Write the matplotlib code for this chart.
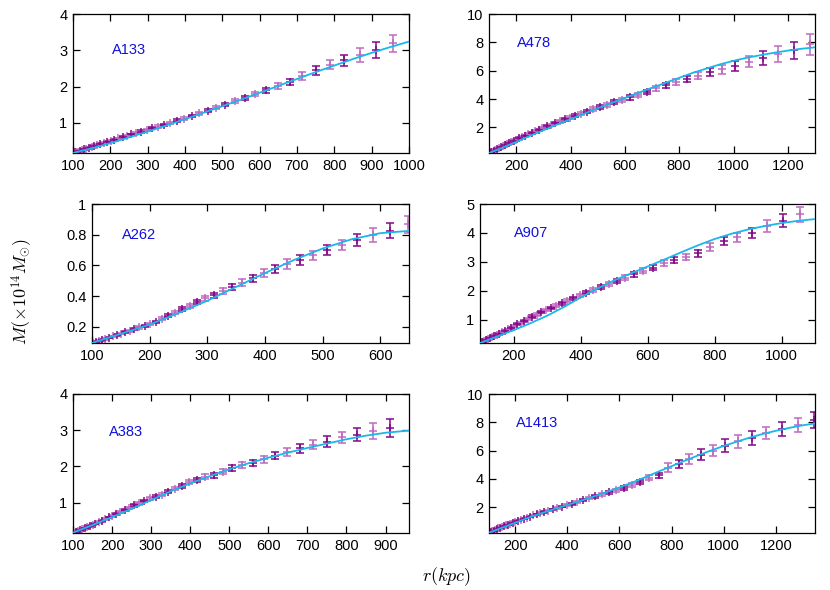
import numpy as np
import matplotlib
matplotlib.use("Agg")
import matplotlib.pyplot as plt
from matplotlib.ticker import FormatStrFormatter

plt.rcParams['font.family'] = ['Liberation Sans', 'DejaVu Sans']
plt.rcParams['mathtext.fontset'] = 'cm'

# radial grid of the measured points (kpc), shared by all clusters
r_data = [101.5, 106.6, 111.9, 117.5, 123.4, 129.5, 136.0, 142.8, 150.0, 157.5,
          165.3, 173.6, 182.3, 191.4, 200.9, 211.0, 221.5, 232.6, 244.3, 256.5,
          269.3, 282.8, 296.9, 311.7, 327.3, 343.7, 360.9, 378.9, 397.9, 417.8,
          438.7, 460.6, 483.6, 507.8, 533.2, 559.8, 587.8, 617.2, 648.1, 680.5,
          714.5, 750.2, 787.7, 827.1, 868.5, 911.9, 957.5, 1005, 1056, 1108,
          1164, 1222, 1283, 1347]

# radii of the model curve nodes (kpc)
r_fit = [100, 150, 200, 250, 300, 350, 400, 450, 500, 550, 600, 650, 700,
         750, 800, 850, 900, 950, 1000, 1050, 1100, 1150, 1200, 1250, 1300, 1350]

# A133
m_a133 = [0.18, 0.19, 0.21, 0.23, 0.25, 0.27, 0.29, 0.31, 0.34, 0.36,
          0.39, 0.42, 0.45, 0.48, 0.51, 0.54, 0.57, 0.61, 0.64, 0.68,
          0.72, 0.76, 0.80, 0.85, 0.90, 0.95, 1.00, 1.06, 1.12, 1.19,
          1.27, 1.33, 1.42, 1.50, 1.60, 1.69, 1.79, 1.90, 2.01, 2.13,
          2.29, 2.45, 2.60, 2.73, 2.87, 3.00, 3.19]
e_a133 = [0.02, 0.02, 0.02, 0.02, 0.02, 0.02, 0.02, 0.02, 0.02, 0.02,
          0.02, 0.02, 0.02, 0.02, 0.02, 0.025, 0.025, 0.025, 0.025, 0.025,
          0.03, 0.03, 0.03, 0.03, 0.03, 0.03, 0.035, 0.035, 0.035, 0.04,
          0.04, 0.04, 0.045, 0.045, 0.05, 0.05, 0.06, 0.07, 0.08, 0.08,
          0.10, 0.12, 0.12, 0.15, 0.18, 0.22, 0.24]
fit_a133 = [0.17, 0.30, 0.44, 0.60, 0.76, 0.93, 1.10, 1.28, 1.46, 1.64,
            1.83, 2.02, 2.21, 2.40, 2.58, 2.76, 2.93, 3.09, 3.24]

# A478
m_a478 = [0.20, 0.25, 0.30, 0.35, 0.41, 0.47, 0.53, 0.60, 0.67, 0.74,
          0.82, 0.90, 0.98, 1.06, 1.15, 1.24, 1.33, 1.43, 1.53, 1.63,
          1.74, 1.85, 1.95, 2.07, 2.19, 2.31, 2.44, 2.57, 2.70, 2.84,
          2.98, 3.12, 3.30, 3.45, 3.60, 3.78, 3.95, 4.12, 4.30, 4.50,
          4.75, 4.98, 5.20, 5.40, 5.65, 5.90, 6.10, 6.35, 6.65, 6.90,
          7.20, 7.45, 7.85]
e_a478 = [0.04, 0.04, 0.04, 0.04, 0.04, 0.04, 0.04, 0.05, 0.05, 0.05,
          0.05, 0.05, 0.05, 0.05, 0.06, 0.06, 0.06, 0.06, 0.06, 0.07,
          0.07, 0.07, 0.08, 0.08, 0.08, 0.09, 0.09, 0.10, 0.10, 0.11,
          0.11, 0.12, 0.12, 0.13, 0.13, 0.14, 0.14, 0.15, 0.15, 0.16,
          0.17, 0.18, 0.20, 0.22, 0.25, 0.27, 0.30, 0.35, 0.40, 0.50,
          0.55, 0.60, 0.75]
fit_a478 = [0.20, 0.58, 0.98, 1.40, 1.80, 2.20, 2.58, 2.97, 3.35, 3.72,
            4.08, 4.45, 4.80, 5.15, 5.50, 5.85, 6.15, 6.45, 6.70, 6.92,
            7.10, 7.27, 7.42, 7.55, 7.65]

# A262
m_a262 = [0.095, 0.101, 0.108, 0.115, 0.122, 0.130, 0.138, 0.147, 0.156, 0.165,
          0.175, 0.185, 0.196, 0.207, 0.219, 0.233, 0.254, 0.272, 0.293, 0.315,
          0.337, 0.363, 0.385, 0.406, 0.435, 0.460, 0.487, 0.515, 0.548, 0.576,
          0.610, 0.635, 0.667, 0.700, 0.733, 0.765, 0.800, 0.826, 0.867]
e_a262 = [0.004, 0.004, 0.004, 0.004, 0.005, 0.005, 0.005, 0.005, 0.005, 0.006,
          0.006, 0.006, 0.007, 0.007, 0.008, 0.008, 0.009, 0.010, 0.011, 0.012,
          0.013, 0.014, 0.015, 0.016, 0.018, 0.020, 0.022, 0.024, 0.026, 0.028,
          0.030, 0.030, 0.030, 0.030, 0.035, 0.040, 0.045, 0.048, 0.055]
fit_a262 = [0.095, 0.155, 0.215, 0.29, 0.37, 0.46, 0.55, 0.635, 0.71, 0.77,
            0.81, 0.825]

# A907
m_a907 = [0.21, 0.24, 0.27, 0.30, 0.33, 0.36, 0.40, 0.44, 0.48, 0.52,
          0.57, 0.62, 0.67, 0.72, 0.78, 0.84, 0.90, 0.97, 1.04, 1.11,
          1.18, 1.26, 1.33, 1.41, 1.49, 1.57, 1.66, 1.75, 1.85, 1.94,
          2.03, 2.14, 2.25, 2.34, 2.46, 2.57, 2.70, 2.80, 2.95, 3.06,
          3.18, 3.30, 3.52, 3.72, 3.85, 4.00, 4.25, 4.43, 4.64]
e_a907 = [0.03, 0.03, 0.03, 0.03, 0.03, 0.03, 0.03, 0.03, 0.03, 0.03,
          0.03, 0.03, 0.03, 0.03, 0.03, 0.035, 0.035, 0.035, 0.035, 0.04,
          0.04, 0.04, 0.04, 0.045, 0.045, 0.045, 0.05, 0.05, 0.055, 0.055,
          0.06, 0.06, 0.065, 0.07, 0.075, 0.08, 0.085, 0.09, 0.10, 0.10,
          0.10, 0.12, 0.14, 0.15, 0.15, 0.17, 0.20, 0.23, 0.25]
fit_a907 = [0.20, 0.42, 0.64, 0.88, 1.14, 1.44, 1.77, 2.08, 2.36, 2.60,
            2.84, 3.08, 3.33, 3.57, 3.79, 3.97, 4.12, 4.24, 4.34, 4.42, 4.48]

# A383
m_a383 = [0.17, 0.19, 0.21, 0.24, 0.26, 0.29, 0.32, 0.35, 0.39, 0.42,
          0.46, 0.50, 0.55, 0.59, 0.64, 0.69, 0.74, 0.80, 0.86, 0.92,
          0.98, 1.05, 1.12, 1.16, 1.22, 1.30, 1.38, 1.45, 1.57, 1.62,
          1.72, 1.75, 1.85, 1.95, 2.03, 2.10, 2.20, 2.30, 2.40, 2.50,
          2.60, 2.68, 2.80, 2.88, 2.98, 3.05]
e_a383 = [0.02, 0.02, 0.02, 0.02, 0.02, 0.02, 0.02, 0.02, 0.02, 0.02,
          0.02, 0.025, 0.025, 0.025, 0.025, 0.03, 0.03, 0.03, 0.03, 0.03,
          0.035, 0.035, 0.035, 0.04, 0.04, 0.04, 0.045, 0.05, 0.06, 0.06,
          0.07, 0.07, 0.07, 0.08, 0.08, 0.08, 0.10, 0.10, 0.12, 0.12,
          0.13, 0.15, 0.16, 0.18, 0.22, 0.25]
fit_a383 = [0.17, 0.38, 0.60, 0.83, 1.07, 1.31, 1.53, 1.73, 1.92, 2.09,
            2.24, 2.38, 2.51, 2.63, 2.75, 2.85, 2.93, 2.98, 3.00]

# A1413
m_a1413 = [0.22, 0.26, 0.30, 0.35, 0.40, 0.45, 0.50, 0.55, 0.60, 0.66,
           0.72, 0.78, 0.85, 0.92, 0.99, 1.06, 1.13, 1.20, 1.27, 1.34,
           1.42, 1.50, 1.58, 1.67, 1.76, 1.85, 1.95, 2.05, 2.15, 2.26,
           2.38, 2.50, 2.63, 2.76, 2.90, 3.05, 3.20, 3.36, 3.55, 3.80,
           4.10, 4.25, 4.80, 5.05, 5.40, 5.70, 6.00, 6.35, 6.65, 6.90,
           7.25, 7.50, 7.80, 8.15]
e_a1413 = [0.03, 0.03, 0.03, 0.03, 0.03, 0.03, 0.03, 0.03, 0.03, 0.03,
           0.035, 0.035, 0.035, 0.035, 0.04, 0.04, 0.04, 0.04, 0.045, 0.045,
           0.045, 0.05, 0.05, 0.05, 0.055, 0.055, 0.06, 0.06, 0.065, 0.07,
           0.07, 0.075, 0.08, 0.085, 0.09, 0.10, 0.10, 0.11, 0.13, 0.15,
           0.18, 0.20, 0.30, 0.30, 0.35, 0.38, 0.40, 0.45, 0.45, 0.50,
           0.45, 0.50, 0.50, 0.55]
fit_a1413 = [0.20, 0.55, 0.90, 1.25, 1.57, 1.87, 2.16, 2.45, 2.75, 3.07,
             3.40, 3.75, 4.13, 4.52, 4.90, 5.28, 5.65, 6.00, 6.33, 6.63,
             6.92, 7.18, 7.40, 7.60, 7.78, 7.92]

# name, data, errors, fit, axes box in pixels (left, right, top, bottom), xlim, ylim, xticks, yticks, label pos
panels = [
    ("A133", m_a133, e_a133, fit_a133, (73, 409, 14, 153), (100, 1000), (0.17, 4),
     range(100, 1001, 100), [1, 2, 3, 4], (0.116, 0.74)),
    ("A478", m_a478, e_a478, fit_a478, (489, 815, 14, 153), (100, 1300), (0.2, 10),
     range(200, 1201, 200), [2, 4, 6, 8, 10], (0.086, 0.79)),
    ("A262", m_a262, e_a262, fit_a262, (92, 409, 204, 343), (100, 650), (0.095, 1),
     range(100, 601, 100), [0.2, 0.4, 0.6, 0.8, 1], (0.095, 0.78)),
    ("A907", m_a907, e_a907, fit_a907, (480, 815, 204, 343), (100, 1100), (0.2, 5),
     range(200, 1001, 200), [1, 2, 3, 4, 5], (0.10, 0.79)),
    ("A383", m_a383, e_a383, fit_a383, (73, 409, 394, 533), (100, 960), (0.16, 4),
     range(100, 901, 100), [1, 2, 3, 4], (0.107, 0.73)),
    ("A1413", m_a1413, e_a1413, fit_a1413, (489, 815, 394, 533), (100, 1350), (0.18, 10),
     range(200, 1201, 200), [2, 4, 6, 8, 10], (0.083, 0.79)),
]

W, H = 830, 590
fig = plt.figure(figsize=(W / 100, H / 100), dpi=100)

dark = '#86088a'
light = '#bf6ac0'
cyan = '#1ab8ea'

for name, m, e, fit, box, xl, yl, xt, yt, lab in panels:
    l, r, t, b = box
    ax = fig.add_axes([l / W, 1 - b / H, (r - l) / W, (b - t) / H])
    n = min(len(m), len(e))
    rr = np.array(r_data[:n])
    mm = np.array(m[:n])
    ee = np.array(e[:n])
    # gnuplot-style yerrorbars: a '+' point plus capped bar, two alternating shades
    for sl, col in ((slice(0, None, 2), light), (slice(1, None, 2), dark)):
        ax.errorbar(rr[sl], mm[sl], yerr=ee[sl], fmt='+', color=col, ecolor=col,
                    markersize=6, markeredgewidth=1.1, elinewidth=1.1,
                    capsize=2.6, capthick=1.1, zorder=2)
    ax.plot(r_fit[:len(fit)], fit, color=cyan, lw=1.3, zorder=3)
    ax.set_xlim(*xl)
    ax.set_ylim(*yl)
    ax.set_xticks(list(xt))
    ax.set_yticks(yt)
    ax.yaxis.set_major_formatter(FormatStrFormatter('%g'))
    ax.tick_params(direction='in', top=True, right=True, length=5, width=0.9,
                   labelsize=10.5, pad=4, colors='black')
    for s in ax.spines.values():
        s.set_linewidth(0.9)
    ax.text(lab[0], lab[1], name, transform=ax.transAxes, color='#1010e0',
            fontsize=10.5, va='center', ha='left')

fig.text(22 / W, 1 - 292 / H, r'$M(\times10^{14}M_{\odot})$', rotation=90,
         ha='center', va='center', fontsize=13)
fig.text(446 / W, 1 - 577 / H, r'$r(kpc)$', ha='center', va='center', fontsize=13)

fig.savefig('out.png', dpi=100)
